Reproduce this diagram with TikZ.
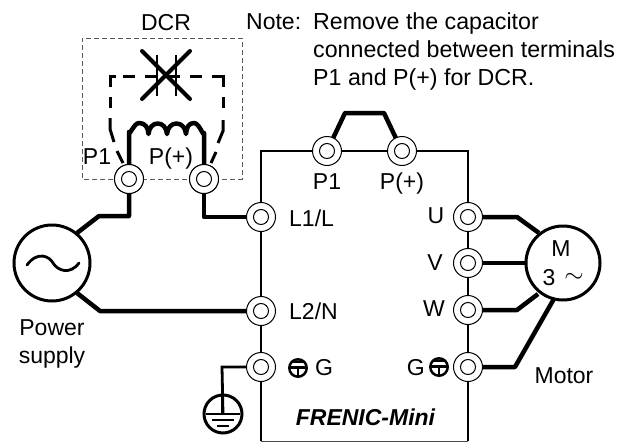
\documentclass[tikz,border=0pt]{standalone}
\usepackage{fontspec}
\setmainfont{Liberation Sans}
\usetikzlibrary{backgrounds,calc}
\tikzset{
  term/.style={circle,draw=black,line width=1pt,fill=white,minimum size=29pt,inner sep=0pt,
    path picture={\draw[line width=1pt] (path picture bounding box.center) circle (7.5pt);}},
  txt/.style={inner sep=0pt,font=\fontsize{23}{27}\selectfont},
  wire/.style={line width=4.5pt,line join=round},
  frame/.style={line width=2.8pt,line join=miter},
  dcrbox/.style={line width=0.8pt,draw=black!65,dash pattern=on 5pt off 3pt},
  dashwire/.style={line width=3pt,line join=miter},
  round2/.style={draw=black,line width=3pt,circle,inner sep=0pt,fill=white},
}
\newcommand{\gsym}[1]{%
  \fill[black] (#1) circle (10pt);
  \fill[white] (#1) circle (7.3pt);
  \fill[black] ($(#1)+(-1pt,-8pt)$) rectangle ($(#1)+(1pt,1pt)$);
  \fill[black] ($(#1)+(-8.5pt,-0.5pt)$) rectangle ($(#1)+(8.5pt,2.2pt)$);
  \fill[black] ($(#1)+(-6pt,4.6pt)$) rectangle ($(#1)+(6pt,7pt)$);
}
\begin{document}
\begin{tikzpicture}[x=1pt,y=-1pt]
\useasboundingbox (0,0) rectangle (619,442);
% terminals
\node[term] (dp) at (129,179) {};
\node[term] (dq) at (204,179) {};
\node[term] (tp) at (327,151) {};
\node[term] (tq) at (402,151) {};
\node[term] (l1) at (261,217) {};
\node[term] (l2) at (261,311) {};
\node[term] (lg) at (261,367) {};
\node[term] (u) at (468,217) {};
\node[term] (v) at (468,263) {};
\node[term] (w) at (468,310) {};
\node[term] (rg) at (468,367) {};
% sources
\node[round2,minimum size=76pt] (src) at (52,263) {};
\node[round2,minimum size=74pt] (mot) at (563,263) {};
\node[draw=black,line width=3pt,circle,inner sep=0pt,minimum size=38pt] (gnd) at (223,414) {};
% helper coordinates
\coordinate (c1) at (99,216);
\coordinate (c1b) at (129,216);
\coordinate (c2) at (100,311);
\coordinate (c3) at (204,217);
\coordinate (a1) at (77,233);
\coordinate (a2) at (77,293);
\coordinate (tl) at (261,151);
\coordinate (tr) at (468,151);
\coordinate (bl) at (261,441);
\coordinate (br) at (468,441);
\coordinate (b1) at (345,113);
\coordinate (b2) at (384,113);
\coordinate (ue) at (517,217);
\coordinate (um) at (539,233);
\coordinate (ve) at (527,263);
\coordinate (we) at (517,310);
\coordinate (wm) at (538,294);
\coordinate (ge) at (515,367);
\coordinate (gm) at (555,297);
\coordinate (gc) at (222,367);
\begin{scope}[on background layer]
  \draw[frame] (l1.center) -- (tl) -- (tp.center) -- (tq.center) -- (tr) -- (u.center) -- (v.center) -- (w.center) -- (rg.center) -- (br);
  \draw[frame] (l1.center) -- (l2.center) -- (lg.center) -- (bl);
  \draw[line width=1pt,black!70] (bl) -- (br);
  \draw[dcrbox] (dp.center) -- (82,179) -- (82,38) -- (242,38) -- (242,179) -- (dq.center) -- (dp.center);
  \draw[wire] (dp.center) -- (c1b) -- (c1) -- (a1);
  \draw[wire] (dq.center) -- (c3) -- (l1.center);
  \draw[wire] (a2) -- (c2) -- (l2.center);
  \draw[wire] (tp.center) -- (b1) -- (b2) -- (tq.center);
  \draw[wire] (u.center) -- (ue) -- (um);
  \draw[wire] (v.center) -- (ve);
  \draw[wire] (w.center) -- (we) -- (wm);
  \draw[wire] (rg.center) -- (ge) -- (gm);
  \draw[line width=2.8pt,line join=miter] (lg.center) -- (gc) -- (gnd.center);
\end{scope}
% coil
\draw[wire] (dp.center) -- (129,132) to[out=-90,in=180] (139,123)
  .. controls (145,123) and (148,127) .. (148.5,134)
  .. controls (149.5,120) and (166,120) .. (167,134)
  .. controls (168,120) and (185,120) .. (186,134)
  .. controls (186.5,127) and (189,123) .. (194,123)
  to[out=0,in=-90] (204,133) -- (dq.center);
\node[term] at (dp) {};
\node[term] at (dq) {};
% dashed bypass, one stroke per dash
\draw[dashwire] (123,163) -- (117,151);
\draw[dashwire] (114,142) -- (110,129) -- (110,118);
\draw[dashwire] (110,108) -- (110,97);
\draw[dashwire] (110,87) -- (110,76) -- (116,76);
\draw[dashwire] (123,76) -- (135,76);
\draw[dashwire] (145,76) -- (157,76);
\draw[dashwire] (168,76) -- (180,76);
\draw[dashwire] (190,76) -- (202,76);
\draw[dashwire] (212,76) -- (223,76) -- (223,87);
\draw[dashwire] (223,97) -- (223,108);
\draw[dashwire] (223,120) -- (223,131) -- (218,143);
\draw[dashwire] (216,152) -- (211,163);
% capacitor and cross
\draw[line width=2.5pt] (157,55) -- (157,96);
\draw[line width=2.5pt] (176,55) -- (176,96);
\draw[line width=4pt,line cap=round] (142,51) -- (190,99);
\draw[line width=4pt,line cap=round] (190,51) -- (142,99);
% sine
\draw[line width=2.8pt,line cap=round] (27,265) .. controls (38,250) and (50,257) .. (53,263) .. controls (58,271) and (70,275) .. (79,263);
% ground
\draw[line width=2.8pt] (222,395) -- (222,414);
\draw[line width=2.8pt] (206,414) -- (240,414);
\draw[line width=2.8pt] (212,420) -- (234,420);
\draw[line width=2.8pt] (217,426) -- (229,426);
\gsym{298,368}
\gsym{439,367}
% labels
\node[txt] (ldcr) at (166,23) {DCR};
\node[txt,anchor=west] (lnote) at (246,22) {Note:};
\node[txt,anchor=north west,align=left,font=\fontsize{23.2}{28}\selectfont] (lnote2) at (313,12) {Remove the capacitor\\connected between terminals\\P1 and P(+) for DCR.};
\node[txt,anchor=base] (ld1) at (97,164) {P1};
\node[txt,anchor=base] (ld2) at (171,164) {P(+)};
\node[txt,anchor=base] (lt1) at (327,189) {P1};
\node[txt,anchor=base] (lt2) at (402,189) {P(+)};
\node[txt,anchor=west] (ll1) at (289,218) {L1/L};
\node[txt,anchor=west] (ll2) at (289,311) {L2/N};
\node[txt,anchor=west] (llg) at (315,368) {G};
\node[txt] (lu) at (436,216) {U};
\node[txt] (lv) at (435,263) {V};
\node[txt] (lw) at (434,309) {W};
\node[txt,anchor=east] (lrg) at (425,368) {G};
\node[txt,align=center,font=\fontsize{23}{28}\selectfont] (lps) at (52,344) {Power\\supply};
\node[txt] (lmo) at (564,376) {Motor};
\node[txt] (lm) at (561,249) {M};
\node[txt] (l3) at (549,278) {3};
\node[txt] (ltl) at (574,278) {$\sim$};
\node[txt,font=\fontsize{23}{25}\selectfont\bfseries\itshape] (lfm) at (365.5,417) {FRENIC-Mini};
\end{tikzpicture}
\end{document}
